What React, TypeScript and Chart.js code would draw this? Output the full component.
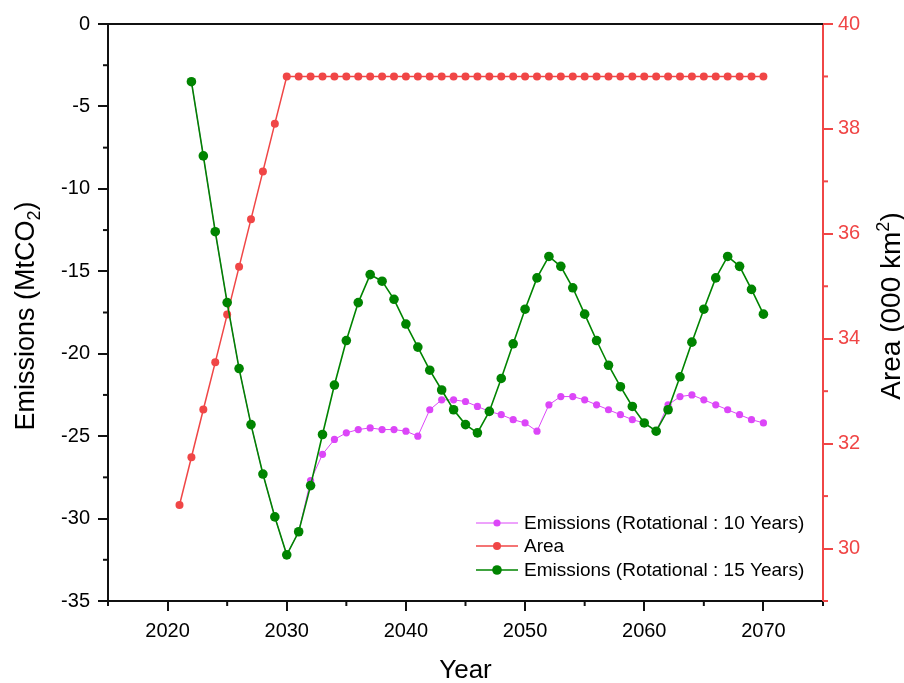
import React, { useEffect, useRef } from 'react';
import { Chart, registerables } from 'chart.js';

Chart.register(...registerables);

// ---------- data ----------
const AREA_YEARS = [
  2021, 2022, 2023, 2024, 2025, 2026, 2027, 2028, 2029, 2030,
  2031, 2032, 2033, 2034, 2035, 2036, 2037, 2038, 2039, 2040,
  2041, 2042, 2043, 2044, 2045, 2046, 2047, 2048, 2049, 2050,
  2051, 2052, 2053, 2054, 2055, 2056, 2057, 2058, 2059, 2060,
  2061, 2062, 2063, 2064, 2065, 2066, 2067, 2068, 2069, 2070,
];
const AREA = [
  30.83, 31.74, 32.65, 33.55, 34.46, 35.37, 36.28, 37.19, 38.1, 39.0,
  39.0, 39.0, 39.0, 39.0, 39.0, 39.0, 39.0, 39.0, 39.0, 39.0,
  39.0, 39.0, 39.0, 39.0, 39.0, 39.0, 39.0, 39.0, 39.0, 39.0,
  39.0, 39.0, 39.0, 39.0, 39.0, 39.0, 39.0, 39.0, 39.0, 39.0,
  39.0, 39.0, 39.0, 39.0, 39.0, 39.0, 39.0, 39.0, 39.0, 39.0,
];

const EMISSION_YEARS = [
  2022, 2023, 2024, 2025, 2026, 2027, 2028, 2029, 2030,
  2031, 2032, 2033, 2034, 2035, 2036, 2037, 2038, 2039, 2040,
  2041, 2042, 2043, 2044, 2045, 2046, 2047, 2048, 2049, 2050,
  2051, 2052, 2053, 2054, 2055, 2056, 2057, 2058, 2059, 2060,
  2061, 2062, 2063, 2064, 2065, 2066, 2067, 2068, 2069, 2070,
];
const EMISSIONS_10 = [
  -3.5, -8.0, -12.6, -16.9, -20.9, -24.3, -27.3, -29.9, -32.2,
  -30.8, -27.7, -26.1, -25.2, -24.8, -24.6, -24.5, -24.6, -24.6, -24.7,
  -25.0, -23.4, -22.8, -22.8, -22.9, -23.2, -23.5, -23.7, -24.0, -24.2,
  -24.7, -23.1, -22.6, -22.6, -22.8, -23.1, -23.4, -23.7, -24.0, -24.2,
  -24.7, -23.1, -22.6, -22.5, -22.8, -23.1, -23.4, -23.7, -24.0, -24.2,
];
const EMISSIONS_15 = [
  -3.5, -8.0, -12.6, -16.9, -20.9, -24.3, -27.3, -29.9, -32.2,
  -30.8, -28.0, -24.9, -21.9, -19.2, -16.9, -15.2, -15.6, -16.7, -18.2,
  -19.6, -21.0, -22.2, -23.4, -24.3, -24.8, -23.5, -21.5, -19.4, -17.3,
  -15.4, -14.1, -14.7, -16.0, -17.6, -19.2, -20.7, -22.0, -23.2, -24.2,
  -24.7, -23.4, -21.4, -19.3, -17.3, -15.4, -14.1, -14.7, -16.1, -17.6,
];

const X_TICKS = [2020, 2030, 2040, 2050, 2060, 2070];
const X_MINOR = [2015, 2025, 2035, 2045, 2055, 2065, 2075];
const LEFT_TICKS = [0, -5, -10, -15, -20, -25, -30, -35];
const LEFT_MINOR = [-2.5, -7.5, -12.5, -17.5, -22.5, -27.5, -32.5];
const RIGHT_TICKS = [30, 32, 34, 36, 38, 40];
const RIGHT_MINOR = [29, 31, 33, 35, 37, 39];

const LABEL_10 = 'Emissions (Rotational : 10 Years)';
const LABEL_AREA = 'Area';
const LABEL_15 = 'Emissions (Rotational : 15 Years)';

// ---------- styles ----------
const FONT = 'Arial, "Liberation Sans", Helvetica, sans-serif';
const RED = '#f04646';
const GREEN = '#008400';
const PURPLE = '#dc46f8';
const AXIS = '#111111';

type Part = { text: string; size: number; dy: number };

function drawRich(ctx: CanvasRenderingContext2D, parts: Part[], cx: number, baseY: number) {
  let total = 0;
  const widths = parts.map((p) => {
    ctx.font = `${p.size}px ${FONT}`;
    const w = ctx.measureText(p.text).width;
    total += w;
    return w;
  });
  let x = cx - total / 2;
  parts.forEach((p, i) => {
    ctx.font = `${p.size}px ${FONT}`;
    ctx.fillText(p.text, x, baseY + p.dy);
    x += widths[i];
  });
}

const decorPlugin = {
  id: 'decor',
  afterDraw(chart: any) {
    const ctx: CanvasRenderingContext2D = chart.ctx;
    const { left, right, top, bottom } = chart.chartArea;
    const sx = chart.scales.x;
    const sy = chart.scales.y;
    const sr = chart.scales.y1;
    const line = (x1: number, y1: number, x2: number, y2: number) => {
      ctx.beginPath();
      ctx.moveTo(x1, y1);
      ctx.lineTo(x2, y2);
      ctx.stroke();
    };
    ctx.save();
    // top frame line
    ctx.strokeStyle = AXIS;
    ctx.lineWidth = 2;
    line(left - 1, top, right, top);
    // minor ticks
    X_MINOR.forEach((v) => {
      const px = sx.getPixelForValue(v);
      line(px, bottom, px, bottom + 5);
    });
    LEFT_MINOR.forEach((v) => {
      const py = sy.getPixelForValue(v);
      line(left - 5, py, left, py);
    });
    ctx.strokeStyle = RED;
    RIGHT_MINOR.forEach((v) => {
      const py = sr.getPixelForValue(v);
      line(right, py, right + 5, py);
    });

    // legend
    const items = [
      { label: LABEL_10, color: PURPLE, r: 3.6, lw: 1 },
      { label: LABEL_AREA, color: RED, r: 4, lw: 1.5 },
      { label: LABEL_15, color: GREEN, r: 4.8, lw: 1.6 },
    ];
    const rows = [523, 546, 570];
    items.forEach((it, i) => {
      const y = rows[i];
      ctx.strokeStyle = it.color;
      ctx.lineWidth = it.lw;
      line(476, y, 518, y);
      ctx.fillStyle = it.color;
      ctx.beginPath();
      ctx.arc(497, y, it.r, 0, Math.PI * 2);
      ctx.fill();
      ctx.fillStyle = '#000';
      ctx.font = `19px ${FONT}`;
      ctx.textAlign = 'left';
      ctx.textBaseline = 'middle';
      ctx.fillText(it.label, 524, y + 1);
    });

    // axis titles
    ctx.fillStyle = '#000';
    ctx.textAlign = 'left';
    ctx.textBaseline = 'alphabetic';
    drawRich(ctx, [{ text: 'Year', size: 26, dy: 0 }], (left + right) / 2, 678);

    ctx.save();
    ctx.translate(34, 316);
    ctx.rotate(-Math.PI / 2);
    drawRich(
      ctx,
      [
        { text: 'Emissions (MtCO', size: 27, dy: 0 },
        { text: '2', size: 18, dy: 6 },
        { text: ')', size: 27, dy: 0 },
      ],
      0,
      0
    );
    ctx.restore();

    ctx.save();
    ctx.translate(900, 306);
    ctx.rotate(-Math.PI / 2);
    drawRich(
      ctx,
      [
        { text: 'Area (000 km', size: 28, dy: 0 },
        { text: '2', size: 18, dy: -11 },
        { text: ')', size: 28, dy: 0 },
      ],
      0,
      0
    );
    ctx.restore();

    ctx.restore();
  },
};

export default function App() {
  const ref = useRef<HTMLCanvasElement | null>(null);

  useEffect(() => {
    if (!ref.current) return;
    const toPts = (xs: number[], ys: number[]) => xs.map((x, i) => ({ x, y: ys[i] }));
    const chart = new Chart(ref.current, {
      type: 'line',
      data: {
        datasets: [
          {
            label: LABEL_10,
            data: toPts(EMISSION_YEARS, EMISSIONS_10),
            yAxisID: 'y',
            borderColor: PURPLE,
            backgroundColor: PURPLE,
            borderWidth: 1,
            pointRadius: 3.6,
            pointBorderWidth: 0,
            pointBackgroundColor: PURPLE,
            tension: 0,
            order: 2,
          },
          {
            label: LABEL_AREA,
            data: toPts(AREA_YEARS, AREA),
            yAxisID: 'y1',
            borderColor: RED,
            backgroundColor: RED,
            borderWidth: 1.5,
            pointRadius: 4,
            pointBorderWidth: 0,
            pointBackgroundColor: RED,
            tension: 0,
            order: 1,
          },
          {
            label: LABEL_15,
            data: toPts(EMISSION_YEARS, EMISSIONS_15),
            yAxisID: 'y',
            borderColor: GREEN,
            backgroundColor: GREEN,
            borderWidth: 1.6,
            pointRadius: 4.8,
            pointBorderWidth: 0,
            pointBackgroundColor: GREEN,
            tension: 0,
            order: 0,
          },
        ],
      },
      options: {
        responsive: false,
        animation: false,
        devicePixelRatio: 1,
        layout: { padding: { top: 24, left: 0, right: 0, bottom: 0 } },
        plugins: {
          legend: { display: false },
          tooltip: { enabled: false },
        },
        scales: {
          x: {
            type: 'linear',
            min: 2015,
            max: 2075,
            afterBuildTicks: (s: any) => {
              s.ticks = X_TICKS.map((v) => ({ value: v }));
            },
            afterFit: (s: any) => {
              s.height = 82;
            },
            ticks: {
              autoSkip: false,
              maxRotation: 0,
              padding: 8,
              color: '#000',
              font: { family: FONT, size: 20 },
              callback: (v: any) => String(v),
            },
            grid: { drawOnChartArea: false, drawTicks: true, tickLength: 10, color: AXIS, lineWidth: 2 },
            border: { display: true, color: AXIS, width: 2 },
          },
          y: {
            type: 'linear',
            position: 'left',
            min: -35,
            max: 0,
            afterBuildTicks: (s: any) => {
              s.ticks = LEFT_TICKS.map((v) => ({ value: v }));
            },
            afterFit: (s: any) => {
              s.width = 108;
            },
            ticks: {
              autoSkip: false,
              padding: 8,
              color: '#000',
              font: { family: FONT, size: 20 },
              callback: (v: any) => String(v),
            },
            grid: { drawOnChartArea: false, drawTicks: true, tickLength: 10, color: AXIS, lineWidth: 2 },
            border: { display: true, color: AXIS, width: 2 },
          },
          y1: {
            type: 'linear',
            position: 'right',
            min: 29,
            max: 40,
            afterBuildTicks: (s: any) => {
              s.ticks = RIGHT_TICKS.map((v) => ({ value: v }));
            },
            afterFit: (s: any) => {
              s.width = 81;
            },
            ticks: {
              autoSkip: false,
              padding: 5,
              color: RED,
              font: { family: FONT, size: 20 },
              callback: (v: any) => String(v),
            },
            grid: { drawOnChartArea: false, drawTicks: true, tickLength: 10, color: RED, lineWidth: 2 },
            border: { display: true, color: RED, width: 2 },
          },
        },
      },
      plugins: [decorPlugin],
    } as any);
    return () => chart.destroy();
  }, []);

  return (
    <div style={{ position: 'fixed', left: 0, top: 0, width: 904, height: 683, background: '#fff' }}>
      <canvas ref={ref} width={904} height={683} style={{ display: 'block' }} />
    </div>
  );
}
